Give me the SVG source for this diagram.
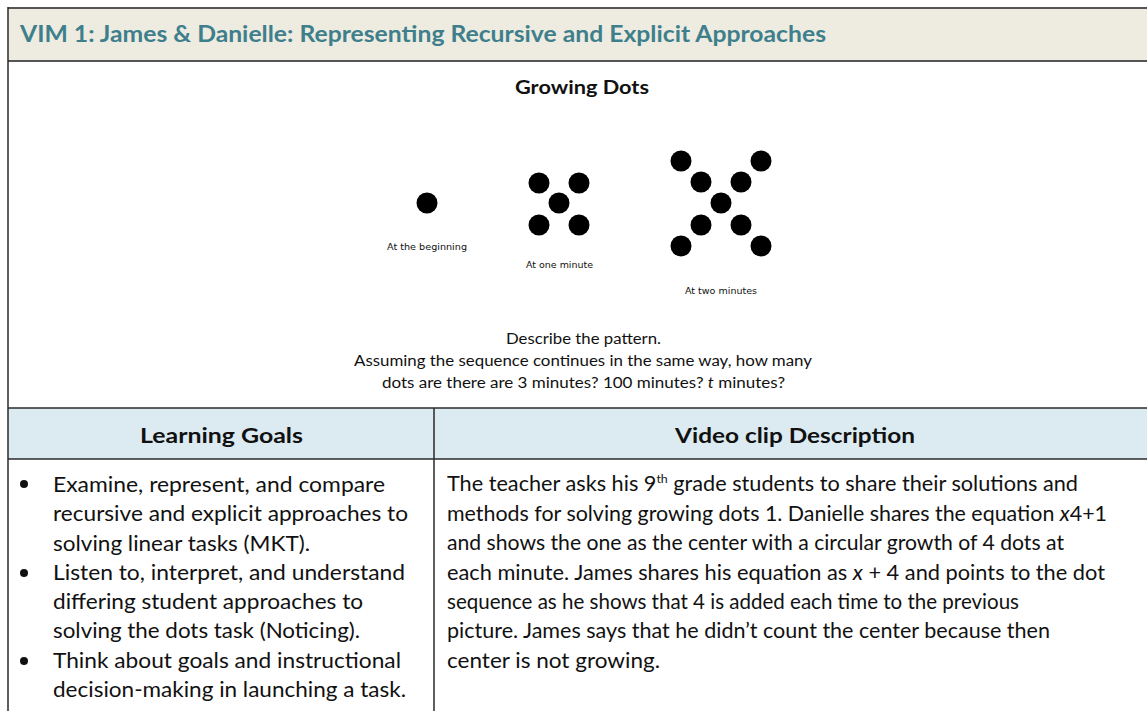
<svg xmlns="http://www.w3.org/2000/svg" width="1147" height="711" viewBox="0 0 1147 711">
<style>
.body{font-family:Lato,"Open Sans","Liberation Sans",sans-serif;font-size:21px;fill:#111}
.desc{font-family:Lato,"Open Sans","Liberation Sans",sans-serif;font-size:15.5px;fill:#111}
.bold{font-family:Lato,"Open Sans","Liberation Sans",sans-serif;font-weight:bold;fill:#111}
.lbl{font-family:"DejaVu Sans","Liberation Sans",sans-serif;font-size:9.5px;fill:#111}
.line{stroke:#2a2a2a;stroke-width:1.5;fill:none}
.dot{fill:#000}
</style>
<rect x="0" y="0" width="1147" height="711" fill="#ffffff"/>
<g id="title-band">
<rect x="8" y="8" width="1145" height="53" fill="#EEEBE1"/>
<line x1="8" y1="8" x2="1147" y2="8" stroke="#555" stroke-width="2"/>
<line x1="8" y1="61" x2="1147" y2="61" stroke="#555" stroke-width="2"/>
<text x="20" y="42" font-family="Lato,'Open Sans','Liberation Sans',sans-serif" font-weight="bold" font-size="23" fill="#3E7F8C" textLength="806" lengthAdjust="spacingAndGlyphs">VIM 1: James &amp; Danielle: Representing Recursive and Explicit Approaches</text>
</g>
<g id="task">
<text class="bold" x="515" y="94" font-size="19" textLength="134" lengthAdjust="spacingAndGlyphs">Growing Dots</text>
<g id="stage0">
<circle class="dot" cx="427" cy="203" r="10.5"/>
<text class="lbl" x="387" y="250" textLength="80" lengthAdjust="spacingAndGlyphs">At the beginning</text>
</g>
<g id="stage1">
<circle class="dot" cx="539" cy="183" r="10.5"/>
<circle class="dot" cx="579" cy="183" r="10.5"/>
<circle class="dot" cx="559" cy="203" r="10.5"/>
<circle class="dot" cx="539" cy="225" r="10.5"/>
<circle class="dot" cx="579" cy="225" r="10.5"/>
<text class="lbl" x="526" y="268" textLength="67" lengthAdjust="spacingAndGlyphs">At one minute</text>
</g>
<g id="stage2">
<circle class="dot" cx="681" cy="161" r="10.5"/>
<circle class="dot" cx="761" cy="161" r="10.5"/>
<circle class="dot" cx="701" cy="182" r="10.5"/>
<circle class="dot" cx="741" cy="182" r="10.5"/>
<circle class="dot" cx="721" cy="203" r="10.5"/>
<circle class="dot" cx="701" cy="225" r="10.5"/>
<circle class="dot" cx="741" cy="225" r="10.5"/>
<circle class="dot" cx="681" cy="246" r="10.5"/>
<circle class="dot" cx="761" cy="246" r="10.5"/>
<text class="lbl" x="685" y="294" textLength="72" lengthAdjust="spacingAndGlyphs">At two minutes</text>
</g>
<text class="desc" x="506" y="344" textLength="155" lengthAdjust="spacingAndGlyphs">Describe the pattern.</text>
<text class="desc" x="354" y="366" textLength="458" lengthAdjust="spacingAndGlyphs">Assuming the sequence continues in the same way, how many</text>
<text class="desc" x="382" y="388" textLength="403" lengthAdjust="spacingAndGlyphs">dots are there are 3 minutes? 100 minutes? <tspan font-style="italic">t</tspan> minutes?</text>
</g>
<g id="table-header">
<rect x="8" y="408" width="1145" height="51" fill="#DBEBF1"/>
<text class="bold" x="140" y="443" font-size="21" textLength="163" lengthAdjust="spacingAndGlyphs">Learning Goals</text>
<text class="bold" x="675" y="443" font-size="21" textLength="240" lengthAdjust="spacingAndGlyphs">Video clip Description</text>
</g>
<g id="grid">
<line class="line" x1="8" y1="7" x2="8" y2="711"/>
<line class="line" x1="8" y1="408" x2="1147" y2="408"/>
<line class="line" x1="8" y1="459" x2="1147" y2="459"/>
<line class="line" x1="434" y1="408" x2="434" y2="711"/>
</g>
<g id="learning-goals">
<circle cx="24" cy="484" r="4" fill="#111"/>
<circle cx="24" cy="573" r="4" fill="#111"/>
<circle cx="24" cy="661" r="4" fill="#111"/>
<text class="body" x="53" y="492" textLength="332" lengthAdjust="spacingAndGlyphs">Examine, represent, and compare</text>
<text class="body" x="53" y="521" textLength="355" lengthAdjust="spacingAndGlyphs">recursive and explicit approaches to</text>
<text class="body" x="53" y="551" textLength="257" lengthAdjust="spacingAndGlyphs">solving linear tasks (MKT).</text>
<text class="body" x="53" y="580" textLength="352" lengthAdjust="spacingAndGlyphs">Listen to, interpret, and understand</text>
<text class="body" x="53" y="609" textLength="310" lengthAdjust="spacingAndGlyphs">differing student approaches to</text>
<text class="body" x="53" y="638" textLength="307" lengthAdjust="spacingAndGlyphs">solving the dots task (Noticing).</text>
<text class="body" x="53" y="668" textLength="348" lengthAdjust="spacingAndGlyphs">Think about goals and instructional</text>
<text class="body" x="53" y="697" textLength="353" lengthAdjust="spacingAndGlyphs">decision-making in launching a task.</text>
</g>
<g id="video-description">
<text class="body" x="447" y="491" textLength="631" lengthAdjust="spacingAndGlyphs">The teacher asks his 9<tspan font-size="12" dy="-8">th</tspan><tspan dy="8"> grade students to share their solutions and</tspan></text>
<text class="body" x="447" y="521" textLength="660" lengthAdjust="spacingAndGlyphs">methods for solving growing dots 1. Danielle shares the equation <tspan font-style="italic">x</tspan>4+1</text>
<text class="body" x="447" y="550" textLength="617" lengthAdjust="spacingAndGlyphs">and shows the one as the center with a circular growth of 4 dots at</text>
<text class="body" x="447" y="580" textLength="658" lengthAdjust="spacingAndGlyphs">each minute. James shares his equation as <tspan font-style="italic">x</tspan> + 4 and points to the dot</text>
<text class="body" x="447" y="609" textLength="572" lengthAdjust="spacingAndGlyphs">sequence as he shows that 4 is added each time to the previous</text>
<text class="body" x="447" y="638" textLength="603" lengthAdjust="spacingAndGlyphs">picture. James says that he didn’t count the center because then</text>
<text class="body" x="447" y="668" textLength="213" lengthAdjust="spacingAndGlyphs">center is not growing.</text>
</g>
</svg>
